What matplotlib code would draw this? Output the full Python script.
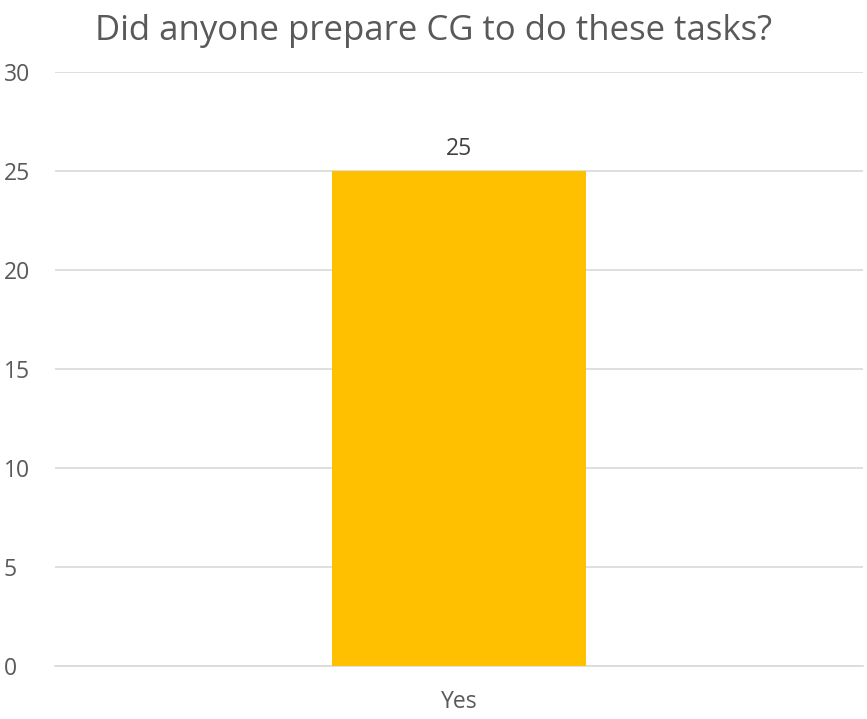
import matplotlib
matplotlib.use("Agg")
import matplotlib.pyplot as plt

categories = ["Yes"]
values = [25]
title = "Did anyone prepare CG to do these tasks?"

plt.rcParams["font.family"] = ["Open Sans", "DejaVu Sans"]
text_color = "#595959"

fig = plt.figure(figsize=(8.67, 7.19), dpi=100)
ax = fig.add_axes([0.0634, 0.0737, 0.932, 0.8262])

bars = ax.bar(categories, values, width=0.314, color="#FFC000", zorder=3)
for b, v in zip(bars, values):
    ax.annotate(str(v), (b.get_x() + b.get_width() / 2, v), xytext=(0, 7),
                textcoords="offset points", ha="center", va="bottom",
                fontsize=16.5, color="#404040")

ax.set_xlim(-0.5, 0.5)
ax.set_ylim(0, 30)
ax.set_yticks(range(0, 31, 5))
ax.yaxis.grid(True, color="#d9d9d9", linewidth=1.2, zorder=0)
ax.tick_params(axis="both", length=0, labelsize=16.5, labelcolor=text_color)
ax.tick_params(axis="y", pad=37)
ax.tick_params(axis="x", pad=17)
for lbl in ax.get_yticklabels():
    lbl.set_horizontalalignment("left")
for s in ax.spines.values():
    s.set_visible(False)
ax.spines["bottom"].set_visible(True)
ax.spines["bottom"].set_color("#d9d9d9")
ax.spines["bottom"].set_linewidth(1.2)

fig.text(0.5, 0.957, title, ha="center", va="center", fontsize=25, color=text_color)

fig.savefig("out.png", dpi=100, facecolor="white")
